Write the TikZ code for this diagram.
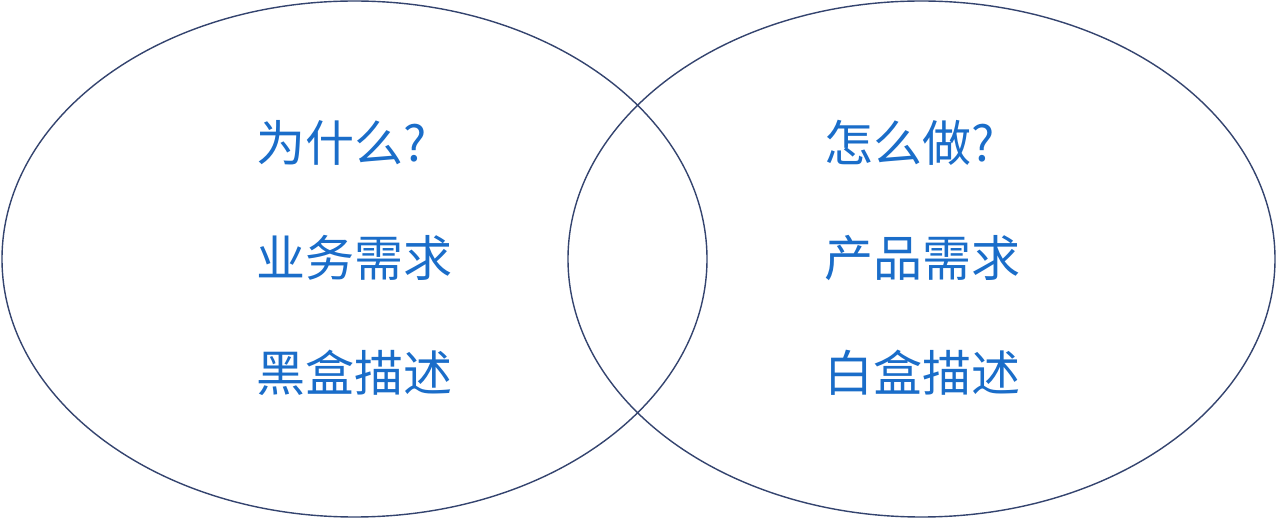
\documentclass[tikz,border=0pt]{standalone}
\usepackage{fontspec}
\newfontfamily\cjk{Noto Sans CJK SC}
\definecolor{ringc}{HTML}{34446F}
\definecolor{txtc}{HTML}{1A6DC9}
\begin{document}
\begin{tikzpicture}[x=1pt,y=-1pt,
  ring/.style={draw=ringc,line width=1.4pt},
  lbl/.style={anchor=west,inner sep=0pt,text=txtc,font=\cjk\fontsize{49}{49}\selectfont}]
\useasboundingbox (0,0) rectangle (1278,518);
\fill[white] (0,0) rectangle (1278,518);
\draw[ring] (354.5,259) ellipse [x radius=352.5, y radius=258];
\draw[ring] (921.5,259) ellipse [x radius=353.5, y radius=258];
\node[lbl] (q1) at (256,143) {为什么?};
\node[lbl] (a1) at (256,258) {业务需求};
\node[lbl] (b1) at (256,373) {黑盒描述};
\node[lbl] (q2) at (824,143) {怎么做?};
\node[lbl] (a2) at (824,258) {产品需求};
\node[lbl] (b2) at (824,373) {白盒描述};
\end{tikzpicture}
\end{document}
